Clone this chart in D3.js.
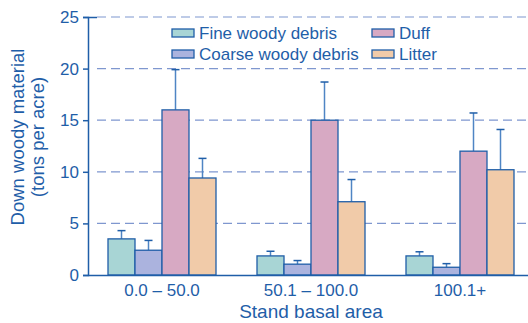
<!DOCTYPE html>
<html>
<head>
<meta charset="utf-8">
<script src="https://cdn.jsdelivr.net/npm/d3@7"></script>
<style>
  body { margin: 0; background: #fff; }
  text { font-family: "Liberation Sans", Arial, sans-serif; fill: #1f5ea8; }
</style>
</head>
<body>
<script>
// Data
const groups = ["0.0 \u2013 50.0", "50.1 \u2013 100.0", "100.1+"]
const seriesNames = ["Fine woody debris", "Coarse woody debris", "Duff", "Litter"]
const fineWoody = [3.5, 1.85, 1.85]
const coarseWoody = [2.4, 1.05, 0.75]
const duff = [16.0, 15.0, 12.0]
const litter = [9.4, 7.1, 10.2]
const fineErr = [4.3, 2.3, 2.25]
const coarseErr = [3.35, 1.4, 1.1]
const duffErr = [19.9, 18.7, 15.7]
const litterErr = [11.3, 9.25, 14.1]
const yTicks = [0, 5, 10, 15, 20, 25]

const colors = ["#a8d5d5", "#abb3de", "#d7a9c3", "#f1cba9"]
const ink = "#1f5ea8"

const values = [fineWoody, coarseWoody, duff, litter]
const errs = [fineErr, coarseErr, duffErr, litterErr]
const rows = []
groups.forEach((g, gi) => {
    seriesNames.forEach((s, si) => {
        rows.push({ group: g, series: s, value: values[si][gi], err: errs[si][gi], si: si })
    })
})

// SVG
const width = 528
const height = 323
const svg = d3.select("body").append("svg")
    .attr("width", width)
    .attr("height", height)

const yScale = d3.scaleLinear()
    .domain([0, 25])
    .range([275, 17])
const x0 = d3.scaleBand()
    .domain(groups)
    .range([87.5, 534.5])
const x1 = d3.scaleBand()
    .domain(seriesNames)
    .range([0, 108])
const barX = d => x0(d.group) + (x0.bandwidth() - 108) / 2 + x1(d.series)
const barMid = d => barX(d) + x1.bandwidth() / 2

// Gridlines
svg.append("g").selectAll("line")
    .data(yTicks.filter(d => d > 0)).enter().append("line")
    .attr("x1", 97).attr("x2", width)
    .attr("y1", d => yScale(d)).attr("y2", d => yScale(d))
    .attr("stroke", "#7f97cf")
    .attr("stroke-width", 1.2)
    .attr("stroke-dasharray", "9,5")

// Y axis
const yAxis = svg.append("g")
    .attr("transform", "translate(88,0)")
    .call(d3.axisLeft(yScale).tickValues(yTicks).tickSize(5).tickPadding(4))
yAxis.select(".domain").attr("stroke", ink).attr("stroke-width", 1.5)
yAxis.selectAll(".tick line").attr("stroke", ink).attr("stroke-width", 1.5)
yAxis.selectAll(".tick text")
    .style("font-size", "17px")
    .attr("fill", ink)
yAxis.selectAll(".tick").filter(d => d === 25).append("line")
    .attr("x1", 0).attr("x2", 9).attr("stroke", ink).attr("stroke-width", 1.5)

// Error bars
const errG = svg.append("g")
errG.selectAll(".errLine")
    .data(rows).enter().append("line")
    .attr("class", "errLine")
    .attr("x1", barMid).attr("x2", barMid)
    .attr("y1", d => yScale(d.value))
    .attr("y2", d => yScale(d.err))
    .attr("stroke", "#4f85c4")
    .attr("stroke-width", 1.5)
errG.selectAll(".errCap")
    .data(rows).enter().append("line")
    .attr("class", "errCap")
    .attr("x1", d => barMid(d) - 4)
    .attr("x2", d => barMid(d) + 4)
    .attr("y1", d => yScale(d.err))
    .attr("y2", d => yScale(d.err))
    .attr("stroke", ink)
    .attr("stroke-width", 1.5)

// Bars
svg.append("g").selectAll("rect")
    .data(rows).enter().append("rect")
    .attr("x", barX)
    .attr("y", d => yScale(d.value))
    .attr("width", x1.bandwidth())
    .attr("height", d => yScale(0) - yScale(d.value))
    .attr("fill", d => colors[d.si])
    .attr("stroke", ink)
    .attr("stroke-width", 1.3)

// X axis
const xAxis = svg.append("g")
    .attr("transform", "translate(0,275)")
    .call(d3.axisBottom(x0).tickSize(0).tickPadding(9))
xAxis.select(".domain").attr("stroke", ink).attr("stroke-width", 1.5)
xAxis.selectAll(".tick text")
    .style("font-size", "17px")
    .attr("fill", ink)

// Axis titles
svg.append("text")
    .attr("x", 311).attr("y", 318)
    .attr("text-anchor", "middle")
    .style("font-size", "19px")
    .text("Stand basal area")
svg.append("text")
    .attr("transform", "translate(24,137) rotate(-90)")
    .attr("text-anchor", "middle")
    .style("font-size", "18.5px")
    .text("Down woody material")
svg.append("text")
    .attr("transform", "translate(44,137) rotate(-90)")
    .attr("text-anchor", "middle")
    .style("font-size", "18.5px")
    .text("(tons per acre)")

// Legend
const legendPos = [[172, 33], [172, 54], [372, 33], [372, 54]]
const legend = svg.append("g")
legend.selectAll("rect")
    .data(seriesNames).enter().append("rect")
    .attr("x", (d, i) => legendPos[i][0])
    .attr("y", (d, i) => legendPos[i][1] - 4)
    .attr("width", 22).attr("height", 8)
    .attr("fill", (d, i) => colors[i])
    .attr("stroke", ink)
    .attr("stroke-width", 1.3)
legend.selectAll("text")
    .data(seriesNames).enter().append("text")
    .attr("x", (d, i) => legendPos[i][0] + 27)
    .attr("y", (d, i) => legendPos[i][1])
    .attr("dy", "0.35em")
    .style("font-size", "17px")
    .text(d => d)
</script>
</body>
</html>
